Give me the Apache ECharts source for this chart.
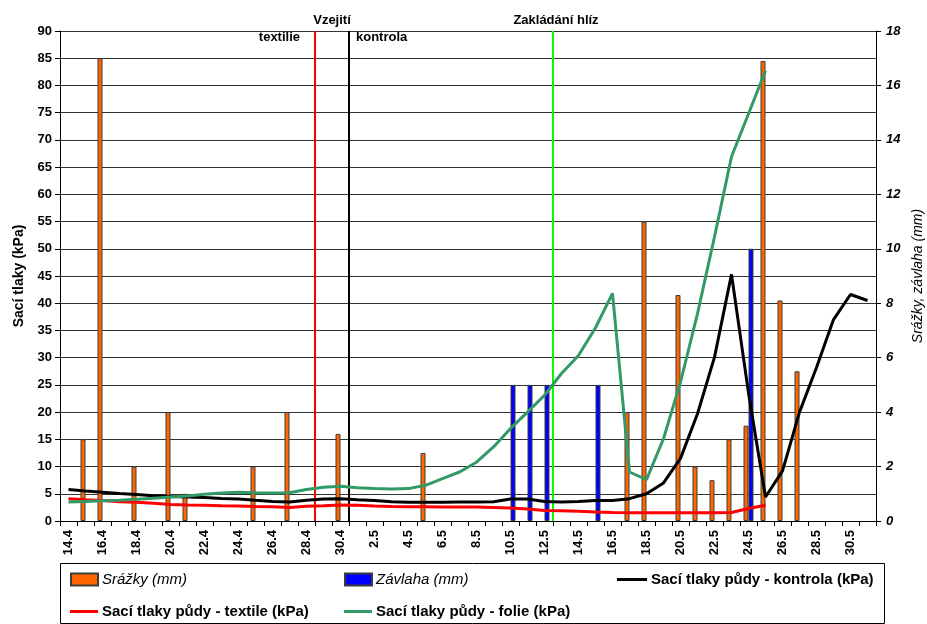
<!DOCTYPE html>
<html>
<head>
<meta charset="utf-8">
<script src="https://cdn.jsdelivr.net/npm/echarts@6/dist/echarts.min.js"></script>
<style>
  html, body { margin: 0; padding: 0; background: #fff; overflow: hidden; }
  #chart { width: 927px; height: 624px; }
</style>
</head>
<body>
<div id="chart"></div>
<script>
// Daily categories, 14 April – 31 May
const dates = [
  '14.4','15.4','16.4','17.4','18.4','19.4','20.4','21.4','22.4','23.4',
  '24.4','25.4','26.4','27.4','28.4','29.4','30.4',
  '1.5','2.5','3.5','4.5','5.5','6.5','7.5','8.5','9.5','10.5',
  '11.5','12.5','13.5','14.5','15.5','16.5','17.5','18.5','19.5','20.5',
  '21.5','22.5','23.5','24.5','25.5','26.5','27.5','28.5','29.5','30.5','31.5'
];

// Precipitation (mm), right axis
const rain = [
  null, 3, 17, null, 2, null, 4, 1, null, null,
  null, 2, null, 4, null, null, 3.2,
  null, null, null, null, 2.5, null, null, null, null, null,
  null, null, null, null, null, null, 4, 11, null, 8.3,
  2, 1.5, 3, 3.5, 16.9, 8.1, 5.5, null, null, null, null
];

// Irrigation (mm), right axis
const irrigation = [
  null, null, null, null, null, null, null, null, null, null,
  null, null, null, null, null, null, null,
  null, null, null, null, null, null, null, null, null, 5,
  5, 5, null, null, 5, null, null, null, null, null,
  null, null, null, 10, null, null, null, null, null, null, null
];

// Soil suction (kPa), left axis
const suctionControl = [
  5.8, 5.5, 5.3, 5.05, 4.85, 4.65, 4.5, 4.4, 4.3, 4.15,
  4.05, 3.8, 3.6, 3.5, 3.8, 4.05, 4.1,
  3.9, 3.75, 3.55, 3.45, 3.45, 3.45, 3.5, 3.5, 3.55, 4.05,
  4.05, 3.6, 3.5, 3.6, 3.75, 3.75, 4.1, 5.0, 7.0, 11.5,
  19.7, 30.1, 45.3, 23.5, 4.4, 9.2, 20.0, 28.2, 37.0, 41.6, 40.5
];

const suctionTextile = [
  4.1, 3.9, 3.75, 3.55, 3.45, 3.25, 3.05, 2.95, 2.9, 2.8,
  2.75, 2.65, 2.6, 2.5, 2.7, 2.8, 2.95,
  2.9, 2.75, 2.65, 2.6, 2.6, 2.55, 2.55, 2.55, 2.5, 2.4,
  2.2, 1.95, 1.9, 1.8, 1.65, 1.55, 1.5, 1.5, 1.5, 1.5,
  1.5, 1.5, 1.55, 2.3, 2.9, null, null, null, null, null, null
];

const suctionFoil = [
  3.5, 3.6, 3.7, 3.8, 4.0, 4.2, 4.4, 4.6, 4.9, 5.15,
  5.3, 5.2, 5.15, 5.2, 5.8, 6.2, 6.4,
  6.1, 5.95, 5.9, 5.95, 6.55, 7.8, 9.0, 10.8, 13.6, 17.0,
  20.0, 23.1, 27.1, 30.4, 35.5, 41.8, 9.0, 7.6, 15.1, 25.5,
  38.1, 52.2, 66.9, 74.8, 82.7, null, null, null, null, null, null
];

// Growth stages: position measured in days from the start of the axis
const stageAt = { emergenceTextile: 15, emergenceControl: 17, tuberInitiation: 29 };

const leftTicks = { min: 0, max: 90, interval: 5 };
const rightTicks = { min: 0, max: 18, interval: 2 };

const FONT = '"Liberation Sans", Arial, sans-serif';
const chart = echarts.init(document.getElementById('chart'), null, { renderer: 'canvas' });

const lineSeries = (name, data, color) => ({
  name, type: 'line', data,
  xAxisIndex: 0, yAxisIndex: 0,
  symbol: 'none', smooth: false,
  connectNulls: false,
  lineStyle: { color, width: 3 },
  itemStyle: { color },
  z: 5
});

const legendBase = {
  orient: 'horizontal',
  padding: 0,
  itemGap: 0,
  itemWidth: 27,
  itemHeight: 12,
  selectedMode: false,
  textStyle: { fontFamily: FONT, fontSize: 15, color: '#000', padding: [0, 0, 0, -1] }
};

chart.setOption({
  animation: false,
  backgroundColor: '#fff',
  grid: { left: 60, right: 51, top: 31, bottom: 103, containLabel: false, outerBoundsMode: 'none' },
  xAxis: [
    {
      type: 'category',
      data: dates,
      boundaryGap: true,
      axisLine: { lineStyle: { color: '#000', width: 1 } },
      axisTick: { show: true, interval: 0, length: 5, lineStyle: { color: '#000' } },
      axisLabel: {
        interval: 1, rotate: 90, margin: 9,
        fontFamily: FONT, fontSize: 13, fontWeight: 'bold', color: '#000'
      },
      splitLine: { show: false }
    },
    {
      type: 'value', min: 0, max: dates.length, show: false
    }
  ],
  yAxis: [
    {
      type: 'value', position: 'left',
      min: leftTicks.min, max: leftTicks.max, interval: leftTicks.interval,
      name: 'Sací tlaky (kPa)', nameLocation: 'middle', nameRotate: 90, nameGap: 34,
      nameTextStyle: { fontFamily: FONT, fontSize: 14, fontWeight: 'bold', color: '#000' },
      axisLine: { show: true, lineStyle: { color: '#000', width: 1 } },
      axisTick: { show: true, length: 5, lineStyle: { color: '#000' } },
      axisLabel: { fontFamily: FONT, fontSize: 13, fontWeight: 'bold', color: '#000', margin: 8 },
      splitLine: { show: true, lineStyle: { color: '#333', width: 1 } }
    },
    {
      type: 'value', position: 'right',
      min: rightTicks.min, max: rightTicks.max, interval: rightTicks.interval,
      name: 'Srážky, závlaha (mm)', nameLocation: 'middle', nameRotate: 90, nameGap: 34,
      nameTextStyle: { fontFamily: FONT, fontSize: 14, fontStyle: 'italic', color: '#000' },
      axisLine: { show: true, lineStyle: { color: '#000', width: 1 } },
      axisTick: { show: true, length: 5, lineStyle: { color: '#000' } },
      axisLabel: { fontFamily: FONT, fontSize: 13, fontWeight: 'bold', fontStyle: 'italic', color: '#000', margin: 10 },
      splitLine: { show: false }
    }
  ],
  legend: [
    Object.assign({}, legendBase, {
      data: [{ name: 'Srážky (mm)', icon: 'rect' }], left: 70, top: 572,
      textStyle: Object.assign({}, legendBase.textStyle, { fontStyle: 'italic' })
    }),
    Object.assign({}, legendBase, {
      data: [{ name: 'Závlaha (mm)', icon: 'rect' }], left: 344, top: 572,
      textStyle: Object.assign({}, legendBase.textStyle, { fontStyle: 'italic' })
    }),
    Object.assign({}, legendBase, {
      data: [{ name: 'Sací tlaky půdy - kontrola (kPa)', icon: 'rect' }], left: 617, top: 572,
      itemHeight: 3, itemWidth: 30,
      textStyle: Object.assign({}, legendBase.textStyle, { fontWeight: 'bold' })
    }),
    Object.assign({}, legendBase, {
      data: [{ name: 'Sací tlaky půdy - textile (kPa)', icon: 'rect' }], left: 70, top: 604,
      itemHeight: 3, itemWidth: 28,
      textStyle: Object.assign({}, legendBase.textStyle, { fontWeight: 'bold' })
    }),
    Object.assign({}, legendBase, {
      data: [{ name: 'Sací tlaky půdy - folie (kPa)', icon: 'rect' }], left: 344, top: 604,
      itemHeight: 3, itemWidth: 28,
      textStyle: Object.assign({}, legendBase.textStyle, { fontWeight: 'bold' })
    })
  ],
  series: [
    {
      name: 'Srážky (mm)', type: 'bar', data: rain,
      xAxisIndex: 0, yAxisIndex: 1,
      barWidth: 5, barGap: '0%',
      itemStyle: { color: '#ff6600', borderColor: '#3c3c3c', borderWidth: 1 },
      z: 3
    },
    {
      name: 'Závlaha (mm)', type: 'bar', data: irrigation,
      xAxisIndex: 0, yAxisIndex: 1,
      barWidth: 5, barGap: '0%',
      itemStyle: { color: '#0000ff', borderColor: '#3c3c3c', borderWidth: 1 },
      z: 3
    },
    lineSeries('Sací tlaky půdy - kontrola (kPa)', suctionControl, '#000000'),
    lineSeries('Sací tlaky půdy - textile (kPa)', suctionTextile, '#ff0000'),
    lineSeries('Sací tlaky půdy - folie (kPa)', suctionFoil, '#339966'),
    {
      name: 'stages', type: 'line', data: [],
      xAxisIndex: 1, yAxisIndex: 0,
      markLine: {
        silent: true, symbol: 'none', animation: false,
        label: { show: false },
        data: [
          { xAxis: stageAt.emergenceTextile, lineStyle: { color: '#ff0000', width: 2, type: 'solid' } },
          { xAxis: stageAt.emergenceControl, lineStyle: { color: '#000000', width: 2, type: 'solid' } },
          { xAxis: stageAt.tuberInitiation, lineStyle: { color: '#00ff00', width: 2, type: 'solid' } }
        ]
      },
      z: 4
    }
  ]
});

// Stage captions placed from the axis positions of the stage lines
const px = v => chart.convertToPixel({ xAxisIndex: 1 }, v);
const xTextile = px(stageAt.emergenceTextile);
const xControl = px(stageAt.emergenceControl);
const xTuber = px(stageAt.tuberInitiation);
const capStyle = (text, align) => ({
  text, fill: '#000', font: 'bold 13px ' + FONT, textAlign: align, textVerticalAlign: 'middle'
});

chart.setOption({
  graphic: [
    { type: 'text', x: (xTextile + xControl) / 2, y: 20, style: capStyle('Vzejití', 'center') },
    { type: 'text', x: xTextile - 15, y: 37, style: capStyle('textilie', 'right') },
    { type: 'text', x: xControl + 7, y: 37, style: capStyle('kontrola', 'left') },
    { type: 'text', x: xTuber + 3, y: 20, style: capStyle('Zakládání hlíz', 'center') },
    {
      type: 'rect', shape: { x: 60.5, y: 563.5, width: 824, height: 60 },
      style: { fill: 'none', stroke: '#000', lineWidth: 1 }, z: -1
    }
  ]
});
</script>
</body>
</html>
